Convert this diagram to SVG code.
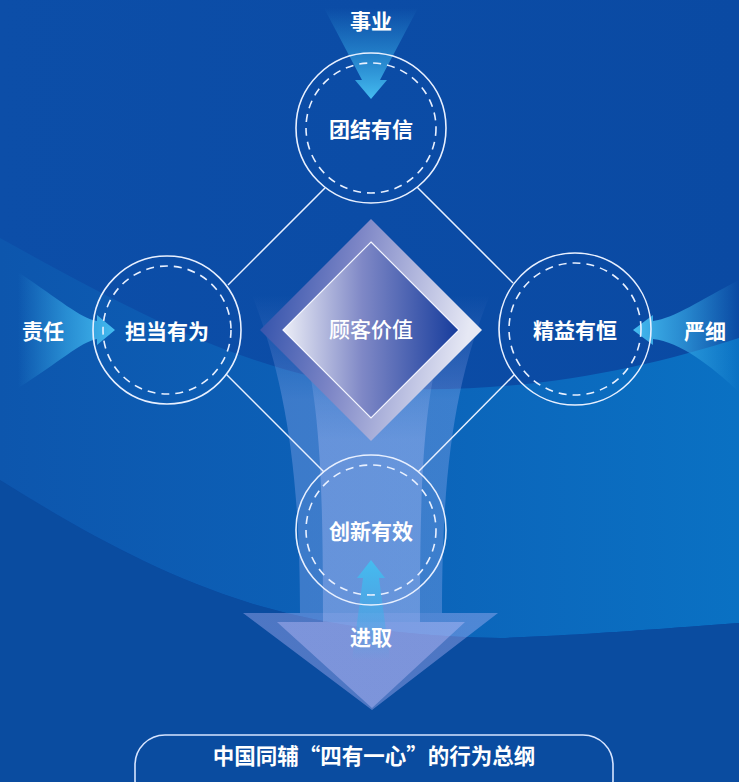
<svg xmlns="http://www.w3.org/2000/svg" width="739" height="782" viewBox="0 0 739 782">
<defs>
<style>
.t{font-family:"Noto Sans CJK SC","Noto Sans",sans-serif;fill:#fff;text-anchor:middle;dominant-baseline:central;}
.node{font-size:21px;font-weight:700;}
.ring{fill:none;stroke:#e8f0ff;stroke-width:1.6;}
.dash{fill:none;stroke:#e8f0ff;stroke-width:1.6;stroke-dasharray:8 6;}
.conn{stroke:#e8f0ff;stroke-width:1.5;fill:none;}
</style>
<linearGradient id="bgTop" x1="0" y1="0" x2="1" y2="0">
<stop offset="0" stop-color="#0c4ea8"/><stop offset="0.5" stop-color="#0b4ca6"/><stop offset="1" stop-color="#0a4aa3"/>
</linearGradient>
<linearGradient id="band" x1="0" y1="0" x2="1" y2="0">
<stop offset="0" stop-color="#0d56ad"/><stop offset="0.5" stop-color="#0c62b8"/><stop offset="1" stop-color="#0a71c3"/>
</linearGradient>
<linearGradient id="fOuter" gradientUnits="userSpaceOnUse" x1="0" y1="295" x2="0" y2="400">
<stop offset="0" stop-color="#b8c0ff" stop-opacity="0"/><stop offset="1" stop-color="#b8c0ff" stop-opacity="0.28"/>
</linearGradient>
<linearGradient id="fInner" gradientUnits="userSpaceOnUse" x1="0" y1="330" x2="0" y2="440">
<stop offset="0" stop-color="#c8ccff" stop-opacity="0"/><stop offset="1" stop-color="#c8ccff" stop-opacity="0.3"/>
</linearGradient>
<linearGradient id="gTop" x1="0" y1="0" x2="0" y2="1">
<stop offset="0" stop-color="#3ab0ea" stop-opacity="0"/><stop offset="0.55" stop-color="#3ab0ea" stop-opacity="0.55"/><stop offset="1" stop-color="#45bcf0" stop-opacity="1"/>
</linearGradient>
<linearGradient id="gLeft" x1="0" y1="0" x2="1" y2="0">
<stop offset="0" stop-color="#3ab0ea" stop-opacity="0"/><stop offset="0.5" stop-color="#3ab0ea" stop-opacity="0.6"/><stop offset="1" stop-color="#45bcf0" stop-opacity="1"/>
</linearGradient>
<linearGradient id="gRight" x1="1" y1="0" x2="0" y2="0">
<stop offset="0" stop-color="#3ab0ea" stop-opacity="0"/><stop offset="0.5" stop-color="#3ab0ea" stop-opacity="0.6"/><stop offset="1" stop-color="#45bcf0" stop-opacity="1"/>
</linearGradient>
<linearGradient id="gUp" x1="0" y1="0" x2="0" y2="1">
<stop offset="0" stop-color="#45bcf0" stop-opacity="1"/><stop offset="0.6" stop-color="#3ab0ea" stop-opacity="0.45"/><stop offset="1" stop-color="#3ab0ea" stop-opacity="0"/>
</linearGradient>
<linearGradient id="frame" x1="0" y1="0" x2="1" y2="0.2">
<stop offset="0" stop-color="#2448a6"/><stop offset="0.45" stop-color="#7d86c6"/><stop offset="1" stop-color="#e6e8f4"/>
</linearGradient>
<linearGradient id="inner" x1="0" y1="0" x2="1" y2="0">
<stop offset="0" stop-color="#eceef7"/><stop offset="0.45" stop-color="#7f88c6"/><stop offset="1" stop-color="#163c9c"/>
</linearGradient>
</defs>

<!-- background -->
<rect x="0" y="0" width="739" height="782" fill="url(#bgTop)"/>
<path d="M0,238 C130,310 250,375 380,388 C520,395 640,370 739,338 L739,623 C620,632 560,636 500,638 C380,636 300,618 250,603 C160,575 80,530 0,480 Z" fill="url(#band)"/>
<path d="M0,480 C80,530 160,575 250,603 C300,618 380,636 500,638 C560,636 620,632 739,623 L739,782 L0,782 Z" fill="#0a4ca0"/>

<!-- funnel -->
<g id="funnel">
<path d="M252,295 C285,380 300,470 300,613 L243,613 L372,710 L498,613 L442,613 C442,470 455,380 490,295 Z" fill="url(#fOuter)"/>
<path d="M243,613 L372,710 L498,613 Z" fill="#c4b8ff" fill-opacity="0.14"/>
<path d="M300,330 C320,400 323,480 323,622 L277,622 L372,708 L465,622 L420,622 C420,480 423,400 445,330 Z" fill="url(#fInner)"/>
<path d="M277,622 L372,708 L465,622 Z" fill="#c4b8ff" fill-opacity="0.12"/>
</g>

<!-- connectors -->
<g id="connectors">
<line class="conn" x1="325" y1="188" x2="228" y2="285"/>
<line class="conn" x1="417" y1="187" x2="513" y2="283"/>
<line class="conn" x1="226" y1="374" x2="324" y2="472"/>
<line class="conn" x1="514" y1="375" x2="418" y2="472"/>
</g>

<!-- incoming arrows -->
<g id="arrow-top">
<path d="M324,8 L418,8 L380,80 L387,80 L371,99 L355,80 L362,80 Z" fill="url(#gTop)"/>
<text class="t node" x="371" y="20">事业</text>
</g>
<g id="arrow-left">
<path d="M18,272 C60,300 80,318 97,321 L97,315 L115,330 L97,345 L97,339 C80,342 60,362 18,388 Z" fill="url(#gLeft)"/>
<text class="t node" x="43" y="330">责任</text>
</g>
<g id="arrow-right">
<path d="M739,280 C700,300 675,318 653,321 L653,315 L633,330 L653,345 L653,339 C680,342 710,365 739,392 Z" fill="url(#gRight)"/>
<text class="t node" x="705" y="330">严细</text>
</g>
<g id="arrow-bottom">
<path d="M363,578 L357,578 L371,560 L385,578 L379,578 L390,660 L352,660 Z" fill="url(#gUp)"/>
<text class="t node" x="371" y="636">进取</text>
</g>

<!-- center diamond -->
<g id="customer-value">
<polygon points="371,219 482,330 371,441 260,330" fill="url(#frame)"/>
<polygon points="371,242 459,330 371,418 283,330" fill="url(#inner)" stroke="#f4f6ff" stroke-width="1.2"/>
<text class="t" x="371" y="328" font-size="21" font-weight="500">顾客价值</text>
</g>

<!-- nodes -->
<g id="node-top">
<circle class="ring" cx="371" cy="128" r="75"/>
<circle class="dash" cx="371" cy="128" r="65"/>
<text class="t node" x="371" y="128">团结有信</text>
</g>
<g id="node-left">
<circle class="ring" cx="167" cy="330" r="74"/>
<circle class="dash" cx="167" cy="330" r="64"/>
<text class="t node" x="167" y="330">担当有为</text>
</g>
<g id="node-right">
<circle class="ring" cx="575" cy="329" r="76"/>
<circle class="dash" cx="575" cy="329" r="66"/>
<text class="t node" x="575" y="329">精益有恒</text>
</g>
<g id="node-bottom">
<circle class="ring" cx="371" cy="530" r="75"/>
<circle class="dash" cx="371" cy="530" r="65"/>
<text class="t node" x="371" y="530">创新有效</text>
</g>

<!-- footer -->
<g id="footer">
<rect x="135" y="735" width="478" height="75" rx="30" fill="none" stroke="#d6e4ff" stroke-width="1.6"/>
<text class="t" x="374" y="754" font-size="21.5" font-weight="700">中国同辅“四有一心”的行为总纲</text>
</g>
</svg>
